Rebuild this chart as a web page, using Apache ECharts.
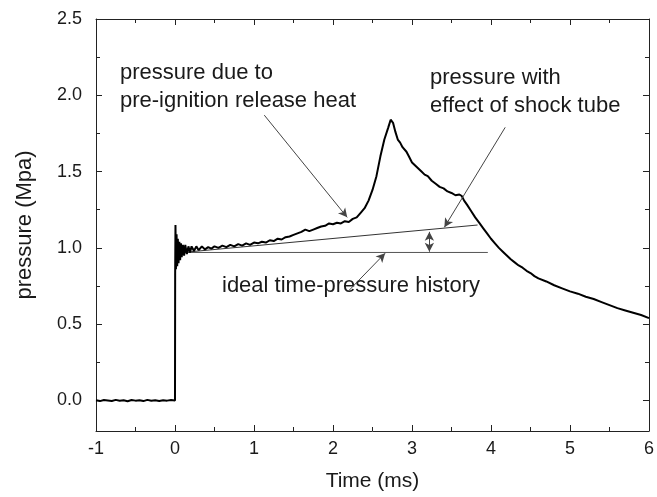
<!DOCTYPE html>
<html>
<head>
<meta charset="utf-8">
<script src="https://cdn.jsdelivr.net/npm/echarts@6/dist/echarts.min.js"></script>
<style>html,body{margin:0;padding:0;background:#fff}#c{width:657px;height:497px}</style>
</head>
<body>
<div id="c"></div>
<script>
// ---- data ----
var timeMs = [
 -1.0,-0.95,-0.9,-0.85,-0.8,-0.75,-0.7,-0.65,-0.6,-0.55,-0.5,-0.45,-0.4,-0.35,-0.3,-0.25,-0.2,-0.15,-0.1,-0.05,0.0,
 0.002,0.006,0.012,0.02,0.028,0.036,0.045,0.055,0.065,0.075,0.085,0.1,0.115,0.13,0.15,0.17,0.19,0.21,0.24,0.27,0.3,
 0.34,0.38,0.42,0.46,0.5,0.55,0.6,0.65,0.7,0.75,0.8,0.85,0.9,0.95,1.0,1.05,1.1,1.15,1.2,1.25,1.3,1.35,1.4,1.45,1.5,
 1.55,1.6,1.65,1.7,1.75,1.8,1.85,1.9,1.95,2.0,2.05,2.1,2.15,2.2,2.25,2.3,2.35,2.4,2.45,2.5,2.55,2.6,2.65,2.7,2.73,
 2.76,2.79,2.82,2.85,2.88,2.9,2.93,2.96,3.0,3.04,3.08,3.12,3.16,3.2,3.25,3.3,3.35,3.4,3.45,3.5,3.55,3.6,3.63,3.66,
 3.7,3.75,3.8,3.85,3.9,3.95,4.0,4.05,4.1,4.15,4.2,4.25,4.3,4.35,4.4,4.45,4.5,4.55,4.6,4.7,4.8,4.9,5.0,5.1,5.2,5.3,
 5.4,5.5,5.6,5.7,5.8,5.9,6.0
];
var pressureMpa = [
 0.002,-0.004,0.003,0.0,-0.003,0.004,-0.002,0.001,-0.005,0.003,-0.001,0.002,-0.004,0.004,-0.002,0.001,-0.003,0.002,-0.001,0.003,0.0,
 0.82,1.15,0.86,1.09,0.88,1.06,0.9,1.04,0.92,1.03,0.94,1.02,0.95,1.02,0.96,1.01,0.97,1.01,0.98,1.01,0.985,
 1.01,0.99,1.005,0.995,1.01,1.0,1.015,1.005,1.02,1.01,1.025,1.015,1.03,1.02,1.035,1.03,1.04,1.035,1.05,1.045,1.06,1.055,1.07,1.075,1.085,
 1.095,1.105,1.12,1.11,1.12,1.13,1.14,1.145,1.16,1.155,1.165,1.16,1.175,1.17,1.19,1.2,1.23,1.26,1.31,1.38,1.47,1.6,1.71,1.79,1.84,
 1.82,1.76,1.71,1.69,1.66,1.67,1.63,1.6,1.56,1.54,1.52,1.5,1.48,1.47,1.44,1.42,1.4,1.39,1.37,1.36,1.345,1.35,1.34,1.31,
 1.28,1.24,1.2,1.165,1.13,1.095,1.06,1.03,1.0,0.975,0.95,0.925,0.905,0.885,0.87,0.85,0.835,0.815,0.8,0.78,0.755,0.735,0.715,0.7,0.68,0.665,
 0.645,0.625,0.605,0.59,0.575,0.56,0.54
];
var xTicks = [-1,0,1,2,3,4,5,6];
var yTicks = [0.0,0.5,1.0,1.5,2.0,2.5];
var yMinorTicks = [-0.25,0.25,0.75,1.25,1.75,2.25];
var idealLine = [[0.1,0.97],[3.96,0.97]];
var shockLine = [[0.1,0.97],[3.83,1.15]];
var arrowHeat = [[1.13,1.87],[2.18,1.2]];
var arrowShock = [[4.18,1.79],[3.41,1.135]];
var arrowIdeal = [[2.2,0.72],[2.66,0.965]];
var angleArc = [[3.22,1.105],[3.22,0.975]];
var labelHeat = ['pressure due to','pre-ignition release heat'];
var labelShock = ['pressure with','effect of shock tube'];
var labelIdeal = 'ideal time-pressure history';

// ---- chart ----
var FONT = '"Liberation Sans", Arial, sans-serif';
var TXT = '#1a1a1a';
var chart = echarts.init(document.getElementById('c'), null, {renderer:'canvas'});
var series = timeMs.map(function(t,i){return [t, pressureMpa[i]];});
function arrowML(seg, syms, curv){
  return {
    silent:true, symbol:syms, symbolSize:[7,9], animation:false,
    lineStyle:{color:'#444', width:1, type:'solid', curveness:curv||0},
    label:{show:false},
    data:[[{coord:seg[0]},{coord:seg[1]}]]
  };
}
var axisLineStyle = {show:true, onZero:false, lineStyle:{color:'#222', width:1}};
var option = {
  animation:false,
  backgroundColor:'#fff',
  grid:{left:96, right:6, top:19, bottom:66, containLabel:false},
  xAxis:[
    {type:'value', min:-1, max:6, interval:1, position:'bottom',
     axisLine:axisLineStyle, splitLine:{show:false},
     axisTick:{inside:true, length:6, lineStyle:{color:'#222'}},
     minorTick:{show:true, splitNumber:2, length:4, lineStyle:{color:'#222'}},
     axisLabel:{fontSize:18, color:TXT, fontFamily:FONT, margin:9,
       formatter:function(v){return xTicks.indexOf(v)>=0 ? String(v) : '';}},
     name:'Time (ms)', nameLocation:'middle', nameGap:40,
     nameTextStyle:{fontSize:21, color:TXT, fontFamily:FONT}},
    {type:'value', min:-1, max:6, interval:1, position:'top',
     axisLine:axisLineStyle, splitLine:{show:false},
     axisTick:{inside:true, length:6, lineStyle:{color:'#222'}},
     minorTick:{show:true, splitNumber:2, length:4, lineStyle:{color:'#222'}},
     axisLabel:{show:false}}
  ],
  yAxis:[
    {type:'value', min:-0.2, max:2.5, position:'left',
     axisLine:axisLineStyle, splitLine:{show:false},
     axisTick:{inside:true, length:6, customValues:yTicks, lineStyle:{color:'#222'}},
     axisLabel:{fontSize:18, color:TXT, fontFamily:FONT, margin:14, customValues:yTicks,
       formatter:function(v){return v.toFixed(1);}},
     name:'pressure (Mpa)', nameLocation:'middle', nameGap:60, nameRotate:90,
     nameTextStyle:{fontSize:22, color:TXT, fontFamily:FONT}},
    {type:'value', min:-0.2, max:2.5, position:'left',
     axisLine:{show:false, onZero:false}, splitLine:{show:false},
     axisTick:{inside:true, length:4, customValues:yMinorTicks, lineStyle:{color:'#222'}},
     axisLabel:{show:false}},
    {type:'value', min:-0.2, max:2.5, position:'right',
     axisLine:axisLineStyle, splitLine:{show:false},
     axisTick:{inside:true, length:6, customValues:yTicks, lineStyle:{color:'#222'}},
     axisLabel:{show:false}},
    {type:'value', min:-0.2, max:2.5, position:'right',
     axisLine:{show:false, onZero:false}, splitLine:{show:false},
     axisTick:{inside:true, length:4, customValues:yMinorTicks, lineStyle:{color:'#222'}},
     axisLabel:{show:false}}
  ],
  series:[
    {type:'line', data:idealLine, showSymbol:false, symbol:'none',
     lineStyle:{color:'#555', width:1}, silent:true, z:1},
    {type:'line', data:shockLine, showSymbol:false, symbol:'none',
     lineStyle:{color:'#333', width:1}, silent:true, z:1},
    {type:'line', data:series, showSymbol:false, symbol:'none',
     lineStyle:{color:'#000', width:2}, z:3},
    {type:'line', data:[], markLine:arrowML(arrowHeat,['none','arrow'])},
    {type:'line', data:[], markLine:arrowML(arrowShock,['none','arrow'])},
    {type:'line', data:[], markLine:arrowML(arrowIdeal,['none','arrow'])},
    {type:'line', data:[], markLine:arrowML(angleArc,['arrow','arrow'],-0.35)}
  ],
  graphic:[
    {type:'text', left:120, top:59, style:{text:labelHeat.join('\n'), font:'22px '+FONT, fill:TXT, lineHeight:28}},
    {type:'text', left:430, top:64, style:{text:labelShock.join('\n'), font:'22px '+FONT, fill:TXT, lineHeight:28}},
    {type:'text', left:222, top:275, style:{text:labelIdeal, font:'22px '+FONT, fill:TXT}}
  ]
};
chart.setOption(option);
</script>
</body>
</html>
